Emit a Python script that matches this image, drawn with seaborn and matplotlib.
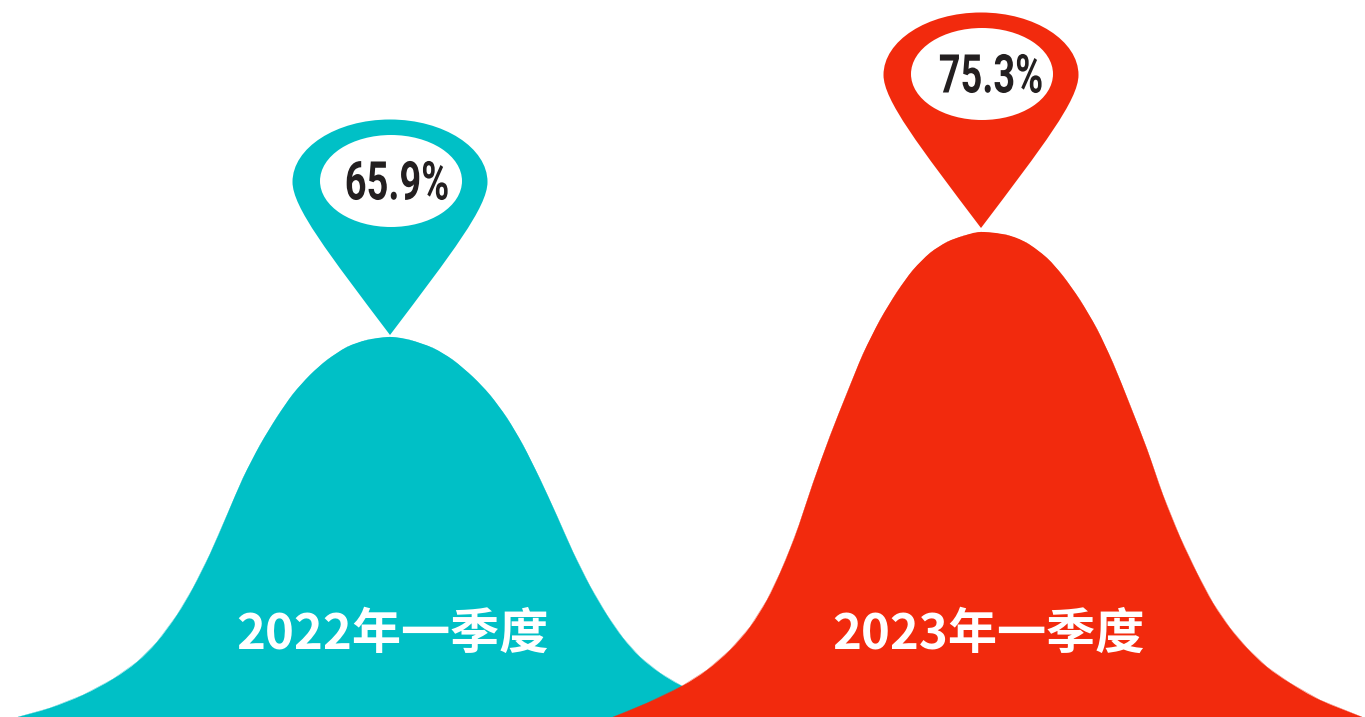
import pandas as pd
import seaborn as sns
import matplotlib.pyplot as plt
from matplotlib.path import Path
from matplotlib.patches import PathPatch, Ellipse
from matplotlib.patheffects import AbstractPathEffect
from matplotlib.transforms import Affine2D

# ---------------------------------------------------
# Data
# ---------------------------------------------------

periods = ["2022年一季度", "2023年一季度"]
rates = ["65.9%", "75.3%"]
colors = ["#00C0C6", "#F22A0D"]

teal_x = [18, 50, 83, 113, 137, 157, 177, 193, 210, 227, 243, 260, 277, 293, 310, 327, 347, 367, 390,
          410, 433, 453, 473, 490, 507, 523, 540, 557, 573, 590, 607, 623, 640, 660, 682, 720, 762]
teal_height = [0, 9, 22, 38, 55, 75, 102, 129, 163, 202, 239, 272, 300, 323, 342, 357, 370, 377, 380,
               377, 369, 357, 340, 322, 299, 272, 238, 201, 165, 131, 102, 79, 60, 44, 31, 14, 0]

red_x = [613, 647, 682, 707, 730, 750, 767, 780, 790, 799, 813, 830, 847, 863, 880, 897, 913, 930, 947, 963, 981,
         1007, 1027, 1047, 1063, 1080, 1097, 1113, 1130, 1147, 1163, 1180, 1197, 1213, 1230, 1247, 1267, 1290, 1320, 1362]
red_height = [0, 14, 31, 47, 67, 90, 117, 144, 168, 192, 234, 281, 324, 363, 397, 425, 447, 464, 475, 481, 485,
              482, 474, 459, 441, 417, 388, 354, 312, 268, 222, 180, 144, 114, 89, 69, 50, 34, 17, 0]

curves = [(teal_x, teal_height), (red_x, red_height)]

# ---------------------------------------------------
# Figure setup
# ---------------------------------------------------

sns.set_theme(style="white")
plt.rcParams["font.family"] = ["Noto Sans CJK SC", "DejaVu Sans"]

fig = plt.figure(figsize=(13.65, 7.17), dpi=100)
ax = fig.add_axes([0, 0, 1, 1])


# narrows a text around its centre, the percent labels use a condensed face
class Squeeze(AbstractPathEffect):
    def __init__(self, center_px, factor):
        super().__init__()
        self.center_px = center_px
        self.factor = factor

    def draw_path(self, renderer, gc, tpath, affine, rgbFace=None):
        squeeze = Affine2D().translate(-self.center_px, 0).scale(self.factor, 1).translate(self.center_px, 0)
        renderer.draw_path(gc, tpath, affine + squeeze, rgbFace)


def pin_path(tip_x, tip_y):
    # offsets from the pin tip, upwards positive
    verts = [(0, 0), (-62, 82), (-97.5, 128), (-97.5, 153),
             (-97.5, 187), (-54, 215.5), (0, 215.5),
             (54, 215.5), (97.5, 187), (97.5, 153),
             (97.5, 128), (62, 82), (0, 0), (0, 0)]
    codes = [Path.MOVETO] + [Path.CURVE4] * 12 + [Path.CLOSEPOLY]
    return Path([(tip_x + dx, tip_y + dy) for dx, dy in verts], codes)


def bell_path(xs, heights):
    # smooth outline through the read points (Catmull-Rom as bezier segments)
    verts = [(xs[0], heights[0])]
    codes = [Path.MOVETO]
    last = len(xs) - 1
    for k in range(last):
        a, b = max(k - 1, 0), min(k + 2, last)
        verts.append((xs[k] + (xs[k + 1] - xs[a]) / 6, heights[k] + (heights[k + 1] - heights[a]) / 6))
        verts.append((xs[k + 1] - (xs[b] - xs[k]) / 6, heights[k + 1] - (heights[b] - heights[k]) / 6))
        verts.append((xs[k + 1], heights[k + 1]))
        codes += [Path.CURVE4] * 3
    verts.append((xs[0], heights[0]))
    codes.append(Path.CLOSEPOLY)
    return Path(verts, codes)


# ---------------------------------------------------
# Bells, pins and labels
# ---------------------------------------------------

tip_gaps = [2, 4]
rate_shifts = [7, 10]
period_shifts = [2, 7]

for i, (xs, heights) in enumerate(curves):
    df = pd.DataFrame({"x": xs, "height": heights})
    color = colors[i]

    ax.add_patch(PathPatch(bell_path(xs, heights), fc=color, ec="none", zorder=2 + i))
    sns.lineplot(data=df, x="x", y="height", color=color, lw=0.2, ax=ax, zorder=2 + i, sort=False)

    peak = df.loc[df["height"].idxmax()]
    tip_x, tip_y = peak["x"], peak["height"] + tip_gaps[i]

    ax.add_patch(PathPatch(pin_path(tip_x, tip_y), fc=color, ec="none", zorder=5))
    ax.add_patch(Ellipse((tip_x + 1, tip_y + 154), 142, 92, fc="white", ec="none", zorder=6))

    rate_x = tip_x + rate_shifts[i]
    ax.text(rate_x, tip_y + 135.5, rates[i], color="#231F20", fontsize=38.5, fontweight="bold",
            family=["Roboto", "DejaVu Sans"], ha="center", va="baseline", zorder=7,
            path_effects=[Squeeze(rate_x, 0.71)])

    ax.text(tip_x + period_shifts[i], 68, periods[i], color="white", fontsize=35.4, fontweight="bold",
            ha="center", va="baseline", zorder=7)

ax.set_xlim(0, 1365)
ax.set_ylim(0, 717)
ax.axis("off")

fig.savefig("out.png", dpi=100)
